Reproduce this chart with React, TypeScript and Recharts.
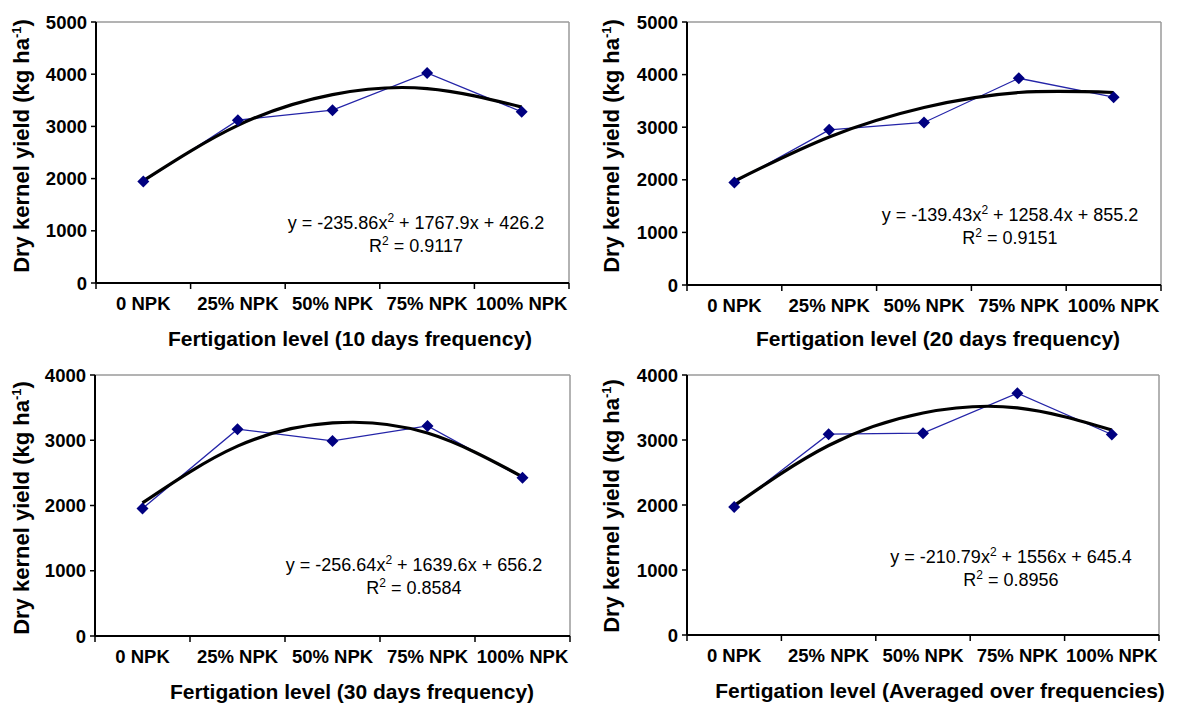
import { LineChart, Line, XAxis, YAxis, ReferenceLine } from "recharts"

const FONT = '"Liberation Sans", Arial, sans-serif'

// categories on the x axis (positions 1..5)
const CATEGORIES = ["0 NPK", "25% NPK", "50% NPK", "75% NPK", "100% NPK"]
const LEVELS = [1, 2, 3, 4, 5]

const YIELD_10D = [1945, 3120, 3310, 4025, 3280]
const YIELD_20D = [1950, 2950, 3090, 3930, 3570]
const YIELD_30D = [1955, 3170, 2990, 3220, 2425]
const YIELD_AVG = [1970, 3090, 3105, 3720, 3085]

// polynomial trend line, read at each category
const TREND_10D = [1960, 3020, 3610, 3725, 3370]
const TREND_20D = [1975, 2815, 3375, 3660, 3660]
const TREND_30D = [2040, 2910, 3265, 3110, 2440]
const TREND_AVG = [1990, 2915, 3415, 3495, 3155]

const TICKS_5000 = [0, 1000, 2000, 3000, 4000, 5000]
const TICKS_4000 = [0, 1000, 2000, 3000, 4000]
const X_TICKS = [0.5, 1, 1.5, 2, 2.5, 3, 3.5, 4, 4.5, 5, 5.5]

const TITLES = [
  "Fertigation level (10 days frequency)",
  "Fertigation level (20 days frequency)",
  "Fertigation level (30 days frequency)",
  "Fertigation level (Averaged over frequencies)",
]
const EQ_COEFS = [
  ["-235.86", "1767.9", "426.2"],
  ["-139.43", "1258.4", "855.2"],
  ["-256.64", "1639.6", "656.2"],
  ["-210.79", "1556", "645.4"],
]
const R_SQUARED = ["0.9117", "0.9151", "0.8584", "0.8956"]

const W = 1186
const H = 704
const Y_AXIS_W = 60
const X_AXIS_H = 40

function XTick(props: any) {
  const { x, y, payload } = props
  const v = payload.value
  if (Number.isInteger(v)) {
    return (
      <text
        x={x}
        y={y + 20}
        textAnchor="middle"
        dominantBaseline="central"
        fontFamily={FONT}
        fontSize={18.5}
        fontWeight={700}
        fill="#000"
      >
        {CATEGORIES[v - 1]}
      </text>
    )
  }
  return <line x1={x} x2={x} y1={y} y2={y + 6} stroke="#000" strokeWidth={1.5} />
}

function Diamond(props: any) {
  const { cx, cy, index } = props
  const r = 6
  return (
    <path
      key={`d-${index}`}
      d={`M${cx},${cy - r}L${cx + r},${cy}L${cx},${cy + r}L${cx - r},${cy}Z`}
      fill="#000080"
    />
  )
}

interface PanelProps {
  yields: number[]
  trend: number[]
  yMax: number
  yTicks: number[]
  idx: number
  box: { left: number; right: number; top: number; bottom: number }
  eq: { x: number; y: number }
  title: { x: number; y: number }
  label: { x: number; y: number }
}

function Panel({ yields, trend, yMax, yTicks, idx, box, eq, title, label }: PanelProps) {
  const data = LEVELS.map((lv, i) => ({ lv, yld: yields[i], trend: trend[i] }))
  const [a, b, c] = EQ_COEFS[idx]
  return (
    <>
      <div style={{ position: "absolute", left: 0, top: 0 }}>
        <LineChart
          width={W}
          height={H}
          data={data}
          margin={{
            left: box.left - Y_AXIS_W,
            right: W - box.right,
            top: box.top,
            bottom: H - box.bottom - X_AXIS_H,
          }}
        >
          <XAxis
            type="number"
            dataKey="lv"
            domain={[0.5, 5.5]}
            ticks={X_TICKS}
            height={X_AXIS_H}
            tickSize={0}
            tickMargin={0}
            tickLine={false}
            interval={0}
            axisLine={{ stroke: "#000", strokeWidth: 2 }}
            tick={<XTick />}
          />
          <YAxis
            type="number"
            domain={[0, yMax]}
            ticks={yTicks}
            width={Y_AXIS_W}
            interval={0}
            tickSize={5}
            tickMargin={4}
            axisLine={{ stroke: "#000", strokeWidth: 2 }}
            tickLine={{ stroke: "#000", strokeWidth: 1.5 }}
            tick={{ fill: "#000", fontSize: 18.5, fontWeight: 700, fontFamily: FONT }}
          />
          <ReferenceLine y={yMax} stroke="#9a9a9a" strokeWidth={1.5} />
          <ReferenceLine x={5.5} stroke="#9a9a9a" strokeWidth={1.5} />
          <Line
            dataKey="yld"
            type="linear"
            stroke="#2424a8"
            strokeWidth={1.3}
            dot={(p: any) => <Diamond {...p} />}
            activeDot={false}
            isAnimationActive={false}
          />
          <Line
            dataKey="trend"
            type="natural"
            stroke="#000"
            strokeWidth={3.2}
            dot={false}
            activeDot={false}
            isAnimationActive={false}
          />
        </LineChart>
      </div>
      {/* trend equation */}
      <div
        style={{
          position: "absolute",
          left: eq.x - 200,
          top: eq.y - 12,
          width: 400,
          textAlign: "center",
          fontFamily: FONT,
          fontSize: 18,
          lineHeight: "23px",
          color: "#000",
        }}
      >
        y = {a}x<sup style={{ fontSize: 12, lineHeight: 0 }}>2</sup> + {b}x + {c}
        <br />
        R<sup style={{ fontSize: 12, lineHeight: 0 }}>2</sup> = {R_SQUARED[idx]}
      </div>
      {/* x axis title */}
      <div
        style={{
          position: "absolute",
          left: title.x - 300,
          top: title.y - 13,
          width: 600,
          textAlign: "center",
          fontFamily: FONT,
          fontSize: 21,
          fontWeight: 700,
          lineHeight: "26px",
          whiteSpace: "nowrap",
        }}
      >
        {TITLES[idx]}
      </div>
      {/* y axis title */}
      <div
        style={{
          position: "absolute",
          left: label.x - 160,
          top: label.y - 15,
          width: 320,
          height: 30,
          lineHeight: "30px",
          textAlign: "center",
          fontFamily: FONT,
          fontSize: 22,
          fontWeight: 700,
          whiteSpace: "nowrap",
          transform: "rotate(-90deg)",
        }}
      >
        Dry kernel yield (kg ha<sup style={{ fontSize: 13, lineHeight: 0 }}>-1</sup>)
      </div>
    </>
  )
}

export default function App() {
  return (
    <div
      style={{
        position: "absolute",
        left: 0,
        top: 0,
        width: W,
        height: H,
        background: "#fff",
        overflow: "hidden",
      }}
    >
      <Panel
        idx={0}
        yields={YIELD_10D}
        trend={TREND_10D}
        yMax={5000}
        yTicks={TICKS_5000}
        box={{ left: 96, right: 569, top: 22, bottom: 283 }}
        eq={{ x: 416, y: 224 }}
        title={{ x: 350, y: 339 }}
        label={{ x: 22, y: 146 }}
      />
      <Panel
        idx={1}
        yields={YIELD_20D}
        trend={TREND_20D}
        yMax={5000}
        yTicks={TICKS_5000}
        box={{ left: 687, right: 1161, top: 22, bottom: 285 }}
        eq={{ x: 1010, y: 216 }}
        title={{ x: 938, y: 339 }}
        label={{ x: 612, y: 146 }}
      />
      <Panel
        idx={2}
        yields={YIELD_30D}
        trend={TREND_30D}
        yMax={4000}
        yTicks={TICKS_4000}
        box={{ left: 95, right: 570, top: 375, bottom: 636 }}
        eq={{ x: 414, y: 566 }}
        title={{ x: 352, y: 692 }}
        label={{ x: 22, y: 508 }}
      />
      <Panel
        idx={3}
        yields={YIELD_AVG}
        trend={TREND_AVG}
        yMax={4000}
        yTicks={TICKS_4000}
        box={{ left: 687, right: 1159, top: 375, bottom: 635 }}
        eq={{ x: 1011, y: 558 }}
        title={{ x: 940, y: 691 }}
        label={{ x: 612, y: 506 }}
      />
    </div>
  )
}
